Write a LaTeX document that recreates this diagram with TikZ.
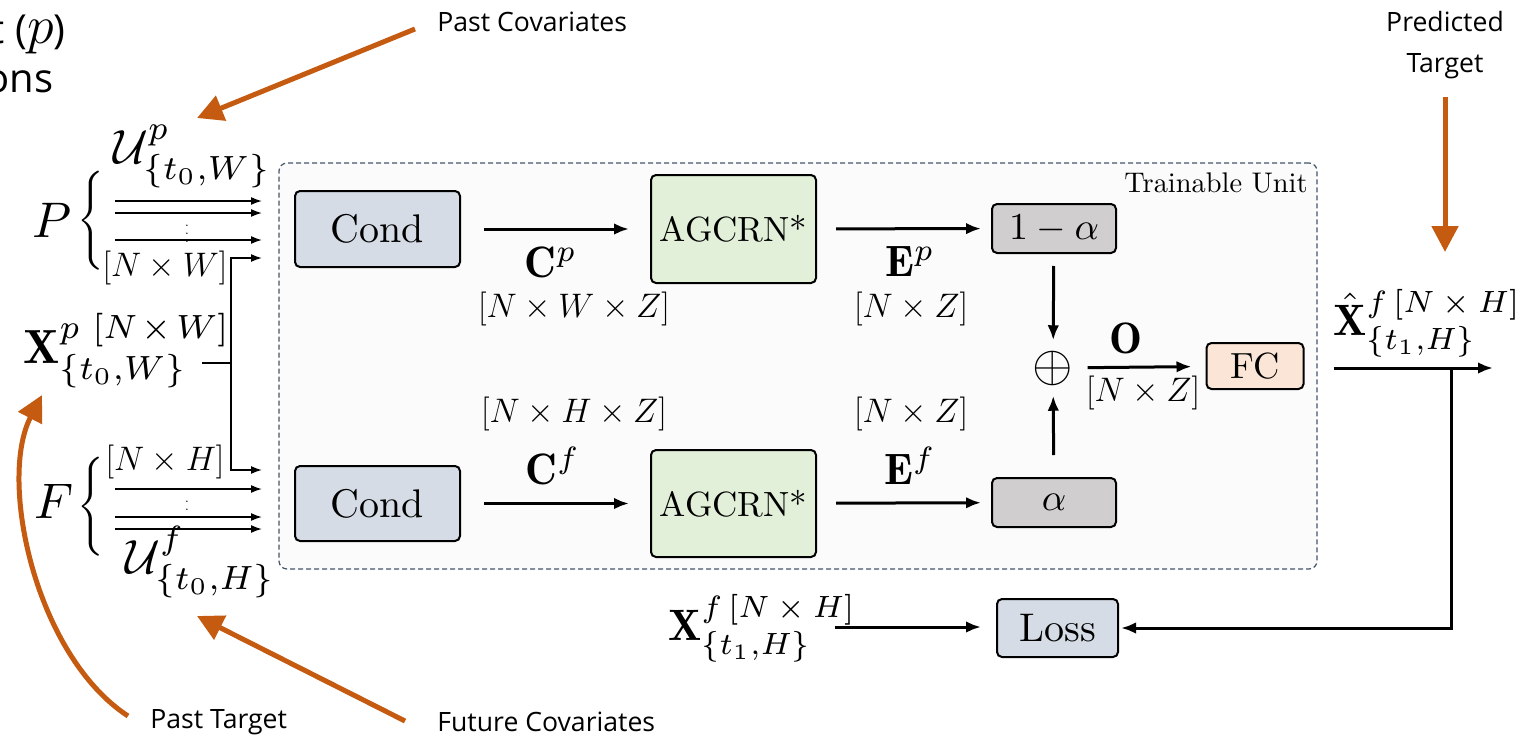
\RequirePackage{fix-cm}
\documentclass[tikz,border=0pt]{standalone}
\usepackage{amsmath}
\usepackage{graphicx}
\usepackage{fontspec}
\setsansfont{Open Sans}
\usetikzlibrary{arrows.meta}
\definecolor{orangec}{HTML}{C55A11}
\definecolor{condc}{HTML}{D6DCE5}
\definecolor{agc}{HTML}{E2F0D9}
\definecolor{alc}{HTML}{D0CECE}
\definecolor{fcc}{HTML}{FBE5D6}
\definecolor{unitc}{HTML}{44546A}
\definecolor{unitbg}{HTML}{FBFBFB}
\newcommand{\Lm}[1]{\scalebox{2.2}{$#1$}}
\newcommand{\Lmb}[1]{\scalebox{2.4}{$#1$}}
\newcommand{\Bm}[1]{\scalebox{2.2}{$#1$}}
\tikzset{
  box/.style={draw, line width=1pt, rounded corners=2.5pt, inner sep=0pt},
  arr/.style={-{Latex[length=7.5pt,width=5.8pt]}, line width=1.5pt},
  thinarr/.style={-{Latex[length=5.5pt,width=4pt]}, line width=0.8pt},
  thinline/.style={line width=0.8pt},
  oarr/.style={draw=orangec, line width=2.5pt, -{Triangle[length=13pt,width=13pt]}},
  lbl/.style={inner sep=0pt, font=\sffamily\fontsize{13.3}{20.5}\selectfont},
  dim/.style={inner sep=0pt, font=\fontsize{17}{20}\selectfont},
  tx/.style={inner sep=0pt},
}
\begin{document}
\begin{tikzpicture}[x=0.5pt,y=-0.5pt]
\useasboundingbox (0,0) rectangle (1519,738);

% trainable unit
\node[draw=unitc, fill=unitbg, dashed, dash pattern=on 2.5pt off 1.5pt, line width=0.6pt,
      rounded corners=4pt, minimum width=519pt, minimum height=203pt, inner sep=0pt]
      (unit) at (798,366) {};
\node[tx, anchor=base east] (unitlbl) at (1308,192) {\scalebox{1.42}{Trainable Unit}};

% boxes
\node[box, fill=condc, minimum width=82.5pt, minimum height=38pt] (condp) at (377.5,229) {\scalebox{2.0}{Cond}};
\node[box, fill=agc, minimum width=82.5pt, minimum height=54pt] (agp) at (733.5,229) {\scalebox{1.75}{AGCRN*}};
\node[box, fill=alc, minimum width=62pt, minimum height=24.5pt] (oma) at (1054,228.5) {\scalebox{1.9}{$1-\alpha$}};
\node[box, fill=condc, minimum width=82.5pt, minimum height=37.5pt] (condf) at (377.5,503.5) {\scalebox{2.0}{Cond}};
\node[box, fill=agc, minimum width=82.5pt, minimum height=53.5pt] (agf) at (733.5,503.5) {\scalebox{1.75}{AGCRN*}};
\node[box, fill=alc, minimum width=62pt, minimum height=24.5pt] (al) at (1054,502.5) {\scalebox{1.9}{$\alpha$}};
\node[tx] (plus) at (1053,368) {\scalebox{2.6}{$\oplus$}};
\node[box, fill=fcc, minimum width=48.5pt, minimum height=23pt] (fc) at (1255,366) {\scalebox{1.82}{FC}};
\node[box, fill=condc, minimum width=60.5pt, minimum height=29pt] (loss) at (1057.5,628) {\scalebox{2.0}{Loss}};

% inner arrows
\draw[arr, shorten <=11.5pt, shorten >=10.5pt] (condp) -- (agp);
\draw[arr, shorten <=9.5pt, shorten >=5pt] (agp) -- (oma);
\draw[arr, shorten <=11.5pt, shorten >=10.5pt] (condf) -- (agf);
\draw[arr, shorten <=9.5pt, shorten >=5pt] (agf) -- (al);
\draw[arr, shorten <=6pt, shorten >=5pt] (oma) -- (plus);
\draw[arr, shorten <=11pt, shorten >=5pt] (al) -- (plus);
\draw[arr, shorten <=7pt, shorten >=7pt] (plus) -- (fc);

% labels on arrows
\node[tx] (cp) at (551,262) {\Bm{\mathbf{C}^p}};
\node[dim] (dcp) at (574,309) {$[N\times W\times Z]$};
\node[tx] (ep) at (910,262) {\Bm{\mathbf{E}^p}};
\node[dim] (dep) at (911,309) {$[N\times Z]$};
\node[tx] (o) at (1126,338) {\Bm{\mathbf{O}}};
\node[dim] (do) at (1143,393) {$[N\times Z]$};
\node[dim] (dcf) at (574,414) {$[N\times H\times Z]$};
\node[tx] (cf) at (553,466) {\Bm{\mathbf{C}^f}};
\node[dim] (def) at (911,414) {$[N\times Z]$};
\node[tx] (ef) at (910,466) {\Bm{\mathbf{E}^f}};

% output
\coordinate (outend) at (1493,368);
\coordinate (tap) at (1451,368);
\draw[arr, shorten <=14.5pt] (fc.east |- outend) -- (outend);
\draw[arr, shorten >=1pt] (tap) |- (loss.east);
\node[tx, anchor=base west] (xhat) at (1333,335) {\Lm{\hat{\mathbf{X}}^{f\,[N\mskip4mu\times\mskip4mu H]}_{\{t_1,H\}}}};
\node[tx, anchor=base west] (xf) at (668,640) {\Lm{\mathbf{X}^{f\,[N\mskip4mu\times\mskip4mu H]}_{\{t_1,H\}}}};
\coordinate (xfs) at (835,627);
\draw[arr, shorten >=7.5pt] (xfs) -- (loss.west |- xfs);

% left side inputs
\node[tx, anchor=base west] (P) at (32,237) {\scalebox{2.5}{$P$}};
\node[tx] (Pb) at (91,221) {\scalebox{1.65}{$\Bigg\{$}};
\node[tx, anchor=base west] (F) at (34,518) {\scalebox{2.5}{$F$}};
\node[tx] (Fb) at (91,507) {\scalebox{1.65}{$\Bigg\{$}};
\node[tx, anchor=base west] (up) at (113,163) {\Lmb{\mathcal{U}^p_{\{t_0,W\}}}};
\node[tx, anchor=base west] (uf) at (125,573) {\Lmb{\mathcal{U}^f_{\{t_0,H\}}}};
\node[tx, anchor=base west] (xp) at (23,363) {\Lmb{\mathbf{X}^{p\mskip6mu[N\mskip2mu\times\mskip2mu W]}_{\{t_0,W\}}}};
\node[dim] (dpw) at (165,268) {$[N\times W]$};
\node[dim] (dfh) at (165,462) {$[N\times H]$};
\node[inner sep=0pt, font=\fontsize{6}{7}\selectfont] (pdots) at (187,228) {$\vdots$};
\node[inner sep=0pt, font=\fontsize{6}{7}\selectfont] (fdots) at (187,504) {$\vdots$};

\foreach \n/\y in {p1/201,p2/213,p3/240,f1/489,f2/517,f3/529}{
  \coordinate (\n s) at (115,\y);
  \coordinate (\n e) at (262,\y);
  \draw[thinarr] (\n s) -- (\n e);
}
\coordinate (vtop) at (231,258);
\coordinate (vbot) at (231,470);
\coordinate (vtope) at (262,258);
\coordinate (vbote) at (262,470);
\coordinate (xpe) at (202,363);
\coordinate (xpj) at (231,363);
\draw[thinline] (xpe) -- (xpj);
\draw[thinarr] (xpj) -- (vtop) -- (vtope);
\draw[thinarr] (xpj) -- (vbot) -- (vbote);

% orange annotations
\node[lbl, anchor=west] (pcov) at (437,22) {Past Covariates};
\node[lbl, anchor=west] (fcov) at (437,722) {Future Covariates};
\node[lbl, anchor=west] (ptar) at (150,722) {Past Target};
\node[lbl, align=center] (pred) at (1445,45) {Predicted\\Target};
\node[inner sep=0pt, anchor=base east, font=\sffamily\fontsize{20}{24}\selectfont] (tl1) at (66,44) {t ({\fontsize{27}{28}\selectfont$p$})};
\node[inner sep=0pt, anchor=base east, font=\sffamily\fontsize{20}{24}\selectfont] (tl2) at (54,92) {ons};

\coordinate (pcs) at (415,29);
\coordinate (pct) at (197,118);
\coordinate (fcs) at (405,721);
\coordinate (fct) at (197,616);
\coordinate (pts) at (128,716);
\coordinate (ptt) at (42,395);
\coordinate (prs) at (1445,97);
\coordinate (prt) at (1445,252);
\draw[oarr] (pcs) -- (pct);
\draw[oarr] (fcs) -- (fct);
\draw[oarr] (pts) .. controls (35,655) and (-2,480) .. (ptt);
\draw[oarr] (prs) -- (prt);
\end{tikzpicture}
\end{document}
